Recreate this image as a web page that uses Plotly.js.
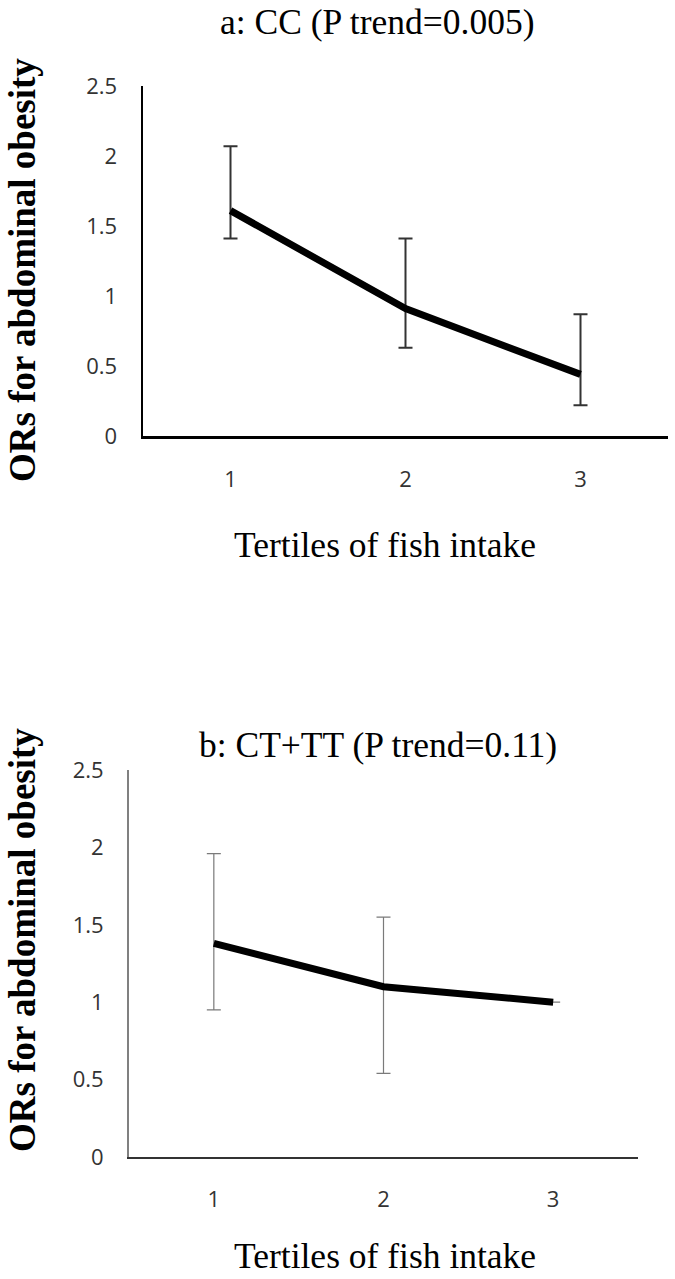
<!DOCTYPE html>
<html>
<head>
<meta charset="utf-8">
<script src="https://cdn.plot.ly/plotly-3.0.1.min.js"></script>
<style>html,body{margin:0;padding:0;background:#fff;}#chart{width:675px;height:1279px;}</style>
</head>
<body>
<div id="chart"></div>
<script>
// Data
const tertiles = [1, 2, 3];
const tickLabels = ["1", "2", "3"];
const yTicks = [0, 0.5, 1, 1.5, 2, 2.5];
const yTickLabels = ["0", "0.5", "1", "1.5", "2", "2.5"];

// a: CC
const ccOR = [1.61, 0.91, 0.44];
const ccLower = [1.41, 0.63, 0.22];
const ccUpper = [2.07, 1.41, 0.87];

// b: CT+TT
const ctOR = [1.38, 1.10, 1.00];
const ctLower = [0.95, 0.54, 1.00];
const ctUpper = [1.96, 1.55, 1.00];

const titleA = "a: CC (P trend=0.005)";
const titleB = "b: CT+TT (P trend=0.11)";
const xTitle = "Tertiles of fish intake";
const yTitle = "ORs for abdominal obesity";

const W = 675, H = 1279;
const px = v => v / W;
const py = v => (H - v) / H;

const traceA = {
  x: tertiles, y: ccOR, type: 'scatter', mode: 'lines',
  line: {color: '#000', width: 7},
  error_y: {type: 'data', symmetric: false,
    array: ccUpper.map((u, i) => u - ccOR[i]),
    arrayminus: ccOR.map((v, i) => v - ccLower[i]),
    color: '#333', thickness: 2, width: 7},
  xaxis: 'x', yaxis: 'y', hoverinfo: 'x+y'
};
const traceB = {
  x: tertiles, y: ctOR, type: 'scatter', mode: 'lines',
  line: {color: '#000', width: 7},
  error_y: {type: 'data', symmetric: false,
    array: ctUpper.map((u, i) => u - ctOR[i]),
    arrayminus: ctOR.map((v, i) => v - ctLower[i]),
    color: '#7a7a7a', thickness: 1.2, width: 7},
  xaxis: 'x2', yaxis: 'y2', hoverinfo: 'x+y'
};

const tickFont = {family: 'Open Sans, sans-serif', size: 22, color: '#333'};
const xBase = {range: [0.5, 3.5], tickvals: tertiles, ticktext: tickLabels, showgrid: false,
  zeroline: false, ticks: '', showline: true, tickfont: tickFont, ticklabelstandoff: 22, fixedrange: true};
const yBase = {range: [0, 2.5], tickvals: yTicks, ticktext: yTickLabels, showgrid: false,
  zeroline: false, ticks: '', showline: true, tickfont: tickFont, ticklabelstandoff: 19, fixedrange: true};

const titleFont = {family: 'Liberation Serif, Times New Roman, serif', size: 35.5, color: '#000'};
const yTitleFont = {family: 'Liberation Serif, Times New Roman, serif', size: 37, color: '#000', weight: 'bold'};

const layout = {
  width: W, height: H,
  margin: {l: 0, r: 0, t: 0, b: 0},
  paper_bgcolor: '#fff', plot_bgcolor: '#fff',
  showlegend: false,
  xaxis: Object.assign({}, xBase, {domain: [px(143), px(668)], anchor: 'y', linecolor: '#000', linewidth: 2.5}),
  yaxis: Object.assign({}, yBase, {domain: [py(436), py(86)], anchor: 'x', linecolor: '#000', linewidth: 2.5}),
  xaxis2: Object.assign({}, xBase, {domain: [px(129), px(638)], anchor: 'y2', linecolor: '#333', linewidth: 2}),
  yaxis2: Object.assign({}, yBase, {domain: [py(1157), py(770)], anchor: 'x2', linecolor: '#808080', linewidth: 2}),
  annotations: [
    {text: titleA, xref: 'paper', yref: 'paper', x: px(377), y: py(22), xanchor: 'center', yanchor: 'middle', showarrow: false, font: titleFont},
    {text: xTitle, xref: 'paper', yref: 'paper', x: px(385), y: py(545), xanchor: 'center', yanchor: 'middle', showarrow: false, font: titleFont},
    {text: yTitle, xref: 'paper', yref: 'paper', x: px(22), y: py(270), xanchor: 'center', yanchor: 'middle', textangle: -90, showarrow: false, font: yTitleFont},
    {text: titleB, xref: 'paper', yref: 'paper', x: px(378), y: py(745), xanchor: 'center', yanchor: 'middle', showarrow: false, font: titleFont},
    {text: xTitle, xref: 'paper', yref: 'paper', x: px(385), y: py(1256), xanchor: 'center', yanchor: 'middle', showarrow: false, font: titleFont},
    {text: yTitle, xref: 'paper', yref: 'paper', x: px(22), y: py(940), xanchor: 'center', yanchor: 'middle', textangle: -90, showarrow: false, font: yTitleFont}
  ]
};

Plotly.newPlot('chart', [traceA, traceB], layout, {displayModeBar: false, staticPlot: true});
</script>
</body>
</html>
